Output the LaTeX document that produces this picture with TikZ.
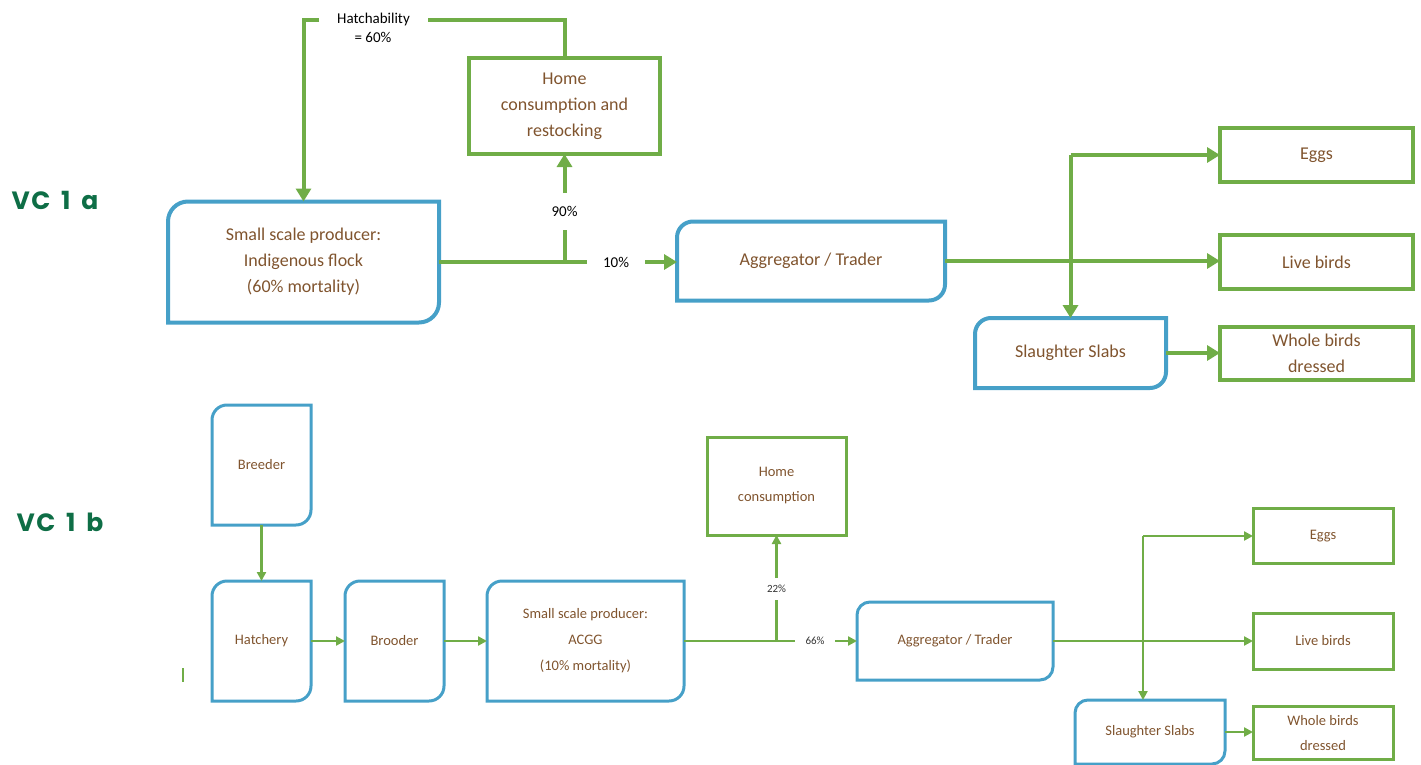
\documentclass[tikz,border=0pt]{standalone}
\usepackage{fontspec}
\setmainfont{Carlito}
\newfontfamily\vcfont[LetterSpace=6,WordSpace=1.6]{Poppins}
\usetikzlibrary{arrows.meta,calc}
\definecolor{gline}{RGB}{112,173,71}
\definecolor{bline}{RGB}{70,160,200}
\definecolor{txt}{RGB}{128,84,46}
\definecolor{vcgreen}{RGB}{14,110,70}
\newcommand\cutbox[3]{%
  \draw[#1] ([yshift=-#3]#2.north west) arc[start angle=180,end angle=90,radius=#3]
    -- (#2.north east) -- ([yshift=#3]#2.south east) arc[start angle=0,end angle=-90,radius=#3]
    -- (#2.south west) -- cycle;}
\tikzset{
  box/.style={rectangle, inner sep=0pt, outer sep=0pt, align=center, text=txt},
  gboxA/.style={box, draw=gline, line width=4pt, font=\fontsize{18}{26}\selectfont},
  bboxA/.style={box, font=\fontsize{18}{26}\selectfont},
  gboxB/.style={box, draw=gline, line width=3pt, font=\fontsize{14.5}{25}\selectfont},
  bboxB/.style={box, font=\fontsize{14.5}{26}\selectfont},
  blueA/.style={draw=bline, line width=4pt},
  blueB/.style={draw=bline, line width=3pt},
  glineA/.style={draw=gline, line width=4pt},
  gflowA/.style={glineA, -{Triangle[length=13pt,width=15pt]}},
  glineB/.style={draw=gline, line width=2.6pt},
  gflowB/.style={glineB, -{Triangle[length=9pt,width=9pt]}},
  lblA/.style={inner sep=0pt, outer sep=0pt, font=\fontsize{15}{18}\selectfont, text=black},
  lblB/.style={inner sep=0pt, outer sep=0pt, font=\fontsize{11}{13}\selectfont, text=black!80},
  vc/.style={font=\vcfont\bfseries\fontsize{25}{28}\selectfont, text=vcgreen}
}
\begin{document}
\begin{tikzpicture}[x=1pt,y=1pt]
\useasboundingbox (0,0) rectangle (1421,-765);

% ---------- VC 1 a ----------
\node[vc] (vca) at (55,-200) {VC 1 a};
\node[gboxA, minimum width=191pt, minimum height=96pt] (home) at (564.5,-106) {Home\\consumption and\\restocking};
\node[bboxA, minimum width=271pt, minimum height=121pt] (ssp) at (303.5,-262) {Small scale producer:\\Indigenous flock\\(60\% mortality)};
\cutbox{blueA}{ssp}{20pt}
\node[bboxA, minimum width=268pt, minimum height=79pt] (agg) at (811,-261) {Aggregator / Trader};
\cutbox{blueA}{agg}{16pt}
\node[gboxA, minimum width=193pt, minimum height=54pt] (eggs) at (1316.5,-155) {Eggs};
\node[gboxA, minimum width=193pt, minimum height=54pt] (live) at (1316.5,-262) {Live birds};
\node[bboxA, minimum width=191pt, minimum height=70pt] (slab) at (1070.5,-353) {Slaughter Slabs};
\cutbox{blueA}{slab}{16pt}
\node[gboxA, minimum width=193pt, minimum height=53pt] (whole) at (1316.5,-353) {Whole birds\\dressed};

\node[lblA, minimum width=109pt, minimum height=14pt] (hatch) at (373.5,-20) {Hatchability};
\node[lblA] (hatch2) at (373,-37) {= 60\%};
\node[lblA, minimum height=37pt] (p90) at (564.5,-211.5) {90\%};
\node[lblA, minimum width=58pt] (p10) at (616,-262) {10\%};

\draw[glineA] (home.north) |- (hatch.east);
\draw[gflowA] (hatch.west) -| (ssp.north);
\draw[glineA] (ssp.east) -- (p10.west);
\draw[gflowA] (p10.east) -- (p10.east -| agg.west);
\coordinate (j1) at (ssp.east -| home.south);
\draw[glineA] (j1) -- (p90.south);
\draw[gflowA] (p90.north) -- (home.south);
\draw[gflowA] (agg.east) -- (agg.east -| live.west);
\coordinate (j2) at (slab.north |- eggs.west);
\draw[gflowA] (j2) -- (eggs.west);
\draw[gflowA] (j2) -- (slab.north);
\draw[gflowA] (slab.east) -- (whole.west);

% ---------- VC 1 b ----------
\node[vc] (vcb) at (60,-522) {VC 1 b};
\node[bboxB, minimum width=99pt, minimum height=120pt] (breeder) at (261.5,-465) {Breeder};
\cutbox{blueB}{breeder}{15pt}
\node[bboxB, minimum width=99pt, minimum height=120pt] (hatchery) at (261.5,-641) {Hatchery};
\cutbox{blueB}{hatchery}{15pt}
\node[bboxB, minimum width=99pt, minimum height=120pt] (brooder) at (394.5,-641) {Brooder};
\cutbox{blueB}{brooder}{15pt}
\node[bboxB, minimum width=197pt, minimum height=120pt] (sspb) at (585.5,-641) {Small scale producer:\\ACGG\\(10\% mortality)};
\cutbox{blueB}{sspb}{15pt}
\node[gboxB, minimum width=139pt, minimum height=98pt] (homeb) at (776.5,-486) {Home\\consumption};
\node[bboxB, minimum width=196pt, minimum height=78pt] (aggb) at (955,-641) {Aggregator / Trader};
\cutbox{blueB}{aggb}{13pt}
\node[gboxB, minimum width=140pt, minimum height=55pt] (eggsb) at (1323,-536) {Eggs};
\node[gboxB, minimum width=140pt, minimum height=56pt] (liveb) at (1323,-641) {Live birds};
\node[bboxB, minimum width=150pt, minimum height=64pt] (slabb) at (1150,-732) {Slaughter Slabs};
\cutbox{blueB}{slabb}{13pt}
\node[gboxB, minimum width=140pt, minimum height=53pt] (wholeb) at (1323,-733) {Whole birds\\dressed};

\node[lblB, minimum height=22pt] (p22) at (776.5,-589) {22\%};
\node[lblB, minimum width=40pt] (p66) at (815,-641) {66\%};

\draw[gflowB] (breeder.south) -- (hatchery.north);
\draw[gflowB] (hatchery.east) -- (brooder.west);
\draw[gflowB] (brooder.east) -- (sspb.west);
\draw[glineB] (sspb.east) -- (p66.west);
\draw[gflowB] (p66.east) -- (aggb.west);
\coordinate (j3) at (sspb.east -| homeb.south);
\draw[glineB] (j3) -- (p22.south);
\draw[gflowB] (p22.north) -- (homeb.south);
\draw[gflowB] (aggb.east) -- (liveb.west);
\coordinate (j4) at ([xshift=-7pt]slabb.north |- eggsb.west);
\draw[gflowB] (j4) -- (eggsb.west);
\draw[gflowB] (j4) -- ([xshift=-7pt]slabb.north);
\draw[gflowB] (slabb.east) -- (slabb.east -| wholeb.west);

% small stray tick at left
\coordinate (tk1) at (183,-668);
\coordinate (tk2) at (183,-682);
\draw[draw=gline, line width=2pt] (tk1) -- (tk2);
\end{tikzpicture}
\end{document}
